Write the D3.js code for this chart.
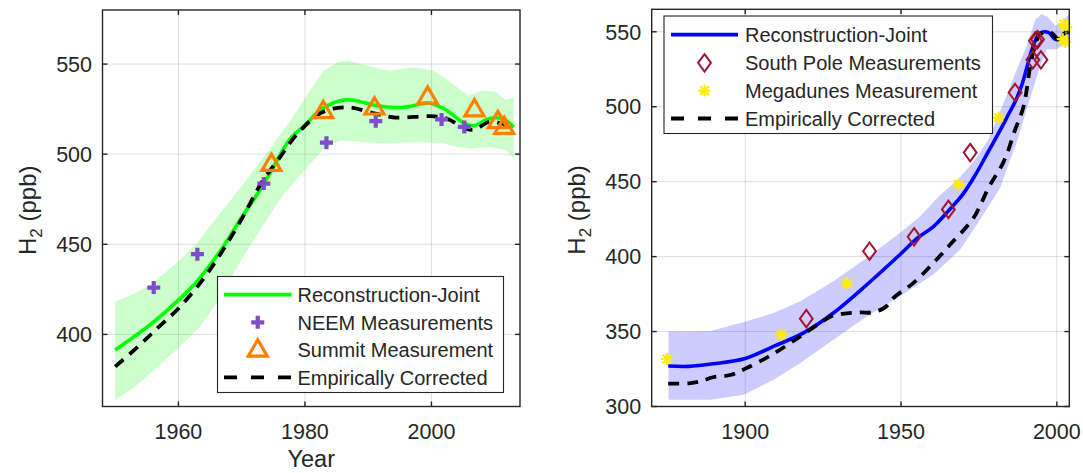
<!DOCTYPE html>
<html><head><meta charset="utf-8">
<script src="https://cdn.jsdelivr.net/npm/d3@7"></script>
<style>
body{margin:0;background:#fff}
svg{display:block}
text{font-family:"Liberation Sans",Arial,Helvetica,sans-serif;fill:#262626}
</style>
</head><body>
<svg id="chart" width="1083" height="473"></svg>
<script>
// ---------- LEFT PANEL DATA ----------
const leftXTicks = [1960, 1980, 2000];
const leftYTicks = [400, 450, 500, 550];
const leftReconYears = [1950,1955.8,1960,1962.9,1966.7,1969.9,1973.2,1977.8,1980,1982.7,1986.5,1991.1,1993.4,1996,1999.6,2002,2005.3,2006.7,2009.1,2011.2,2013];
const leftRecon      = [391.3,406.1,419,429.2,446.7,464.3,481.8,509,516,525.2,530.2,527.1,526,526.2,528.3,525.2,517,515.8,519.7,519.7,515];
const leftCorrYears  = [1950,1953.6,1956.9,1960,1963.4,1966.7,1969.9,1973.2,1975.9,1978.6,1982.7,1986.8,1991.1,1994.4,1999.8,2002.5,2005.3,2006.9,2009.1,2011.2,2013];
const leftCorr       = [382.1,393.2,404.2,414.4,428.3,444.9,463.4,484.5,497.5,510.5,523.2,526,522.5,520.3,521.1,519.7,514.3,513.6,518,517,515.3];
const leftUpperYears = [1950,1953.1,1955.8,1959.6,1962.9,1966.1,1969.9,1974.3,1978.1,1980.8,1983,1985.2,1986.8,1989.5,1993.3,1997.1,2000.4,2002.6,2005.8,2008,2010.2,2011.8,2013];
const leftUpper      = [418.1,422.7,428.3,439.3,450.4,465.2,481.8,502.2,520.6,535.4,546.5,551.1,552,549.3,546.5,548.3,546.1,541,532.6,535.4,534.5,529.9,531.7];
const leftLowerYears = [1950,1953.1,1956.4,1960.2,1963.4,1966.7,1969.9,1973.2,1976.5,1979.7,1983,1985.7,1989,1992.8,1997.1,2001.5,2004.2,2006.4,2009.1,2011.8,2013];
const leftLower      = [363.6,371,381.1,393.2,404.2,420.9,441.2,459.7,477.2,490.1,503.1,507.7,506.8,505.8,506.8,506.2,504,503.1,504,502.2,497.5];
const neemYears   = [1956.1,1963,1973.5,1983.4,1991.2,2001.6,2005.2];
const neemValues  = [426,444.5,483.7,506.4,518.3,519.3,515.1];
const summitYears = [1974.7,1982.9,1991,1999.4,2006.8,2010.5,2011.5];
const summitValues= [494.5,523.8,525.8,531.8,524.8,518.2,515];
const leftLegend = ["Reconstruction-Joint","NEEM Measurements","Summit Measurement","Empirically Corrected"];

// ---------- RIGHT PANEL DATA ----------
const rightXTicks = [1900, 1950, 2000];
const rightYTicks = [300, 350, 400, 450, 500, 550];
const rightReconYears = [1875.3,1881.9,1889.7,1900,1909.1,1918.7,1928.3,1939.1,1949.7,1955.3,1960.4,1965,1970,1974,1978,1982,1984.5,1987,1989,1990.5,1992.5,1994.5,1997.3,1999.5,2001.5,2003.8];
const rightRecon      = [327,326.8,328.5,332,340.1,349.1,362.4,381.4,401.4,412.5,420,430,442,455,470,485,495,505,516,527,541,549,549.6,545,546,551.8];
const rightCorrYears  = [1875.3,1881.9,1885.6,1889.7,1895.2,1900.4,1909.1,1917.7,1924.1,1928,1932.6,1937,1941.2,1945.3,1947.6,1954,1960.4,1965.8,1973.3,1978.1,1983.1,1986.5,1989.3,1991.5,1993,1994.7,1997.9,2001.1,2002.8,2004];
const rightCorr       = [315.2,315.5,316.7,319.5,321,325.6,335.2,346.8,355.8,360.5,362.2,362.8,362.8,366.8,372.5,382.5,395.8,408.1,425.9,446,464,484,500,527.3,540.6,548.4,549.6,544,550.5,549];
const rightUpperYears = [1875.4,1888.8,1900.5,1909.1,1917.7,1928.3,1939.1,1949.7,1956.2,1962,1968.5,1973.5,1978,1983.4,1987,1989.9,1993.1,1995,1997,1999.5,2001.5,2004];
const rightUpper      = [350.1,350.3,356.8,362.4,370.2,383.6,399.2,415.9,427,440,452,464,478,505,524,538.4,558,561.8,560,554,556,562];
const rightLowerYears = [1875.4,1888.8,1899.5,1909.1,1917.7,1928.3,1939.1,1949.7,1960.4,1969,1975.4,1981.8,1987.4,1991,1994.7,1996.8,2000,2004];
const rightLower      = [304.5,304.5,307.8,317.8,329,344.6,360.2,373.5,388,404.7,424.8,446,478,503,527.3,538.4,538.4,545];
const southPoleYears  = [1919.6,1939.9,1954.2,1965.2,1972.2,1986.6,1992.3,1993.1,1993.8,1994.9];
const southPoleValues = [358.6,403.6,413.2,431.5,469.4,509.5,531.3,544,544.8,531.3];
const megadunesYears  = [1874.9,1911.6,1932.6,1968.5,1981.3,2002.2,2003,2001.9,2002.7];
const megadunesValues = [331.7,347.9,382,448.2,492.8,555.1,552.9,545.1,543.3];
const rightLegend = ["Reconstruction-Joint","South Pole Measurements","Megadunes Measurement","Empirically Corrected"];

// ---------- DRAWING ----------
const svg = d3.select("#chart");
const AX = "#262626";

const markers = {
  plus: (g, c) => g.append("path").attr("d","M-6.5,0H6.5M0,-6.5V6.5").attr("stroke",c).attr("stroke-width",4.2).attr("fill","none"),
  tri:  (g, c) => g.append("path").attr("d","M0,-10L9.5,6.3L-9.5,6.3Z").attr("stroke",c).attr("stroke-width",3.2).attr("fill","none").attr("stroke-linejoin","miter"),
  diamond: (g, c) => g.append("path").attr("d","M0,-8.7L6.4,0L0,8.7L-6.4,0Z").attr("stroke",c).attr("stroke-width",2).attr("fill","none"),
  star: (g, c) => g.append("path").attr("d","M-6,0H6M0,-6V6M-4.3,-4.3L4.3,4.3M-4.3,4.3L4.3,-4.3").attr("stroke",c).attr("stroke-width",2.2).attr("fill","none")
};

function zip(xs, ys){ return xs.map((x,i)=>[x, ys[i]]); }

function panel(cfg, idx){
  const x = d3.scaleLinear().domain(cfg.xDomain).range([cfg.left, cfg.right]);
  const y = d3.scaleLinear().domain(cfg.yDomain).range([cfg.bottom, cfg.top]);
  const g = svg.append("g");
  const clipId = "clip"+idx;
  svg.append("defs").append("clipPath").attr("id",clipId)
    .append("rect").attr("x",cfg.left).attr("y",cfg.top)
    .attr("width",cfg.right-cfg.left).attr("height",cfg.bottom-cfg.top);

  // grid
  const grid = g.append("g").attr("stroke",AX).attr("stroke-opacity",0.15).attr("stroke-width",1);
  cfg.xTicks.forEach(t=>grid.append("line").attr("x1",x(t)).attr("x2",x(t)).attr("y1",cfg.top).attr("y2",cfg.bottom));
  cfg.yTicks.forEach(t=>grid.append("line").attr("y1",y(t)).attr("y2",y(t)).attr("x1",cfg.left).attr("x2",cfg.right));

  const data = g.append("g").attr("clip-path",`url(#${clipId})`);
  // band
  const lin = d3.line().x(d=>x(d[0])).y(d=>y(d[1]));
  const up = zip(cfg.upperYears, cfg.upper);
  const lo = zip(cfg.lowerYears, cfg.lower).reverse();
  data.append("path").attr("d", lin(up.concat(lo)) + "Z")
    .attr("fill", cfg.bandColor).attr("fill-opacity",0.2).attr("stroke","none");

  const smooth = d3.line().x(d=>x(d[0])).y(d=>y(d[1])).curve(d3.curveCatmullRom.alpha(0.5));
  data.append("path").attr("d", smooth(zip(cfg.reconYears, cfg.recon)))
    .attr("fill","none").attr("stroke",cfg.lineColor).attr("stroke-width",3.6);

  cfg.markerSets.forEach(ms=>{
    ms.years.forEach((yr,i)=>{
      const mg = g.append("g").attr("transform",`translate(${x(yr)},${y(ms.values[i])})`);
      markers[ms.type](mg, ms.color);
    });
  });

  data.append("path").attr("d", smooth(zip(cfg.corrYears, cfg.corr)))
    .attr("fill","none").attr("stroke","#000").attr("stroke-width",3.8)
    .attr("stroke-dasharray","11,8");

  // axes box + ticks
  const ax = g.append("g").attr("stroke",AX).attr("stroke-width",1.4).attr("fill","none");
  ax.append("rect").attr("x",cfg.left).attr("y",cfg.top).attr("width",cfg.right-cfg.left).attr("height",cfg.bottom-cfg.top);
  const tl = 5;
  cfg.xTicks.forEach(t=>{
    ax.append("line").attr("x1",x(t)).attr("x2",x(t)).attr("y1",cfg.bottom).attr("y2",cfg.bottom-tl);
    ax.append("line").attr("x1",x(t)).attr("x2",x(t)).attr("y1",cfg.top).attr("y2",cfg.top+tl);
  });
  cfg.yTicks.forEach(t=>{
    ax.append("line").attr("y1",y(t)).attr("y2",y(t)).attr("x1",cfg.left).attr("x2",cfg.left+tl);
    ax.append("line").attr("y1",y(t)).attr("y2",y(t)).attr("x1",cfg.right).attr("x2",cfg.right-tl);
  });
  // tick labels
  const tg = g.append("g").attr("font-size",21.5);
  cfg.xTicks.forEach(t=>tg.append("text").attr("x",x(t)).attr("y",cfg.bottom+32.5).attr("text-anchor","middle").text(t));
  cfg.yTicks.forEach(t=>tg.append("text").attr("x",cfg.left-10.5).attr("y",y(t)).attr("dy","0.36em").attr("text-anchor","end").text(t));

  // y label
  const yl = g.append("text").attr("font-size",24).attr("text-anchor","middle")
    .attr("transform",`translate(${cfg.left-67},${(cfg.top+cfg.bottom)/2+2}) rotate(-90)`);
  yl.append("tspan").text("H");
  yl.append("tspan").attr("font-size",17).attr("dy",6).text("2");
  yl.append("tspan").attr("dy",-6).text(" (ppb)");

  if (cfg.xLabel){
    g.append("text").attr("x",(cfg.left+cfg.right)/2).attr("y",cfg.bottom+60).attr("text-anchor","middle").attr("font-size",23.5).text(cfg.xLabel);
  }

  // legend
  const L = cfg.legend;
  const lg = g.append("g");
  lg.append("rect").attr("x",L.x0).attr("y",L.y0).attr("width",L.x1-L.x0).attr("height",L.y1-L.y0)
    .attr("fill","#fff").attr("stroke",AX).attr("stroke-width",1.1);
  const rows = L.rows;
  lg.append("line").attr("x1",L.lx0).attr("x2",L.lx1).attr("y1",rows[0]).attr("y2",rows[0]).attr("stroke",cfg.lineColor).attr("stroke-width",3.8);
  cfg.markerSets.forEach((ms,i)=>{
    const mg = lg.append("g").attr("transform",`translate(${(L.lx0+L.lx1)/2},${rows[i+1]})`);
    markers[ms.type](mg, ms.color);
  });
  lg.append("line").attr("x1",L.lx0).attr("x2",L.lx1).attr("y1",rows[3]).attr("y2",rows[3]).attr("stroke","#000").attr("stroke-width",3.8).attr("stroke-dasharray","13,14");
  cfg.legendLabels.forEach((s,i)=>lg.append("text").attr("x",L.tx).attr("y",rows[i]).attr("dy","0.36em").attr("font-size",20).text(s));
}

panel({
  left:102.5, right:520, top:10, bottom:406.5,
  xDomain:[1948,2014], yDomain:[360,580],
  xTicks:leftXTicks, yTicks:leftYTicks,
  reconYears:leftReconYears, recon:leftRecon,
  corrYears:leftCorrYears, corr:leftCorr,
  upperYears:leftUpperYears, upper:leftUpper,
  lowerYears:leftLowerYears, lower:leftLower,
  bandColor:"#00ff00", lineColor:"#00ff00",
  markerSets:[
    {type:"plus", color:"#7e4ec8", years:neemYears, values:neemValues},
    {type:"tri", color:"#ff7f00", years:summitYears, values:summitValues}
  ],
  xLabel:"Year",
  legendLabels:leftLegend,
  legend:{x0:217.5,x1:503.5,y0:276.5,y1:392.5,rows:[294.7,322.3,349.8,377.3],lx0:224,lx1:291.5,tx:297.5}
},0);

panel({
  left:651.7, right:1069.3, top:9.3, bottom:406.5,
  xDomain:[1870,2004], yDomain:[300,565],
  xTicks:rightXTicks, yTicks:rightYTicks,
  reconYears:rightReconYears, recon:rightRecon,
  corrYears:rightCorrYears, corr:rightCorr,
  upperYears:rightUpperYears, upper:rightUpper,
  lowerYears:rightLowerYears, lower:rightLower,
  bandColor:"#0000ff", lineColor:"#0000ff",
  markerSets:[
    {type:"diamond", color:"#a2142f", years:southPoleYears, values:southPoleValues},
    {type:"star", color:"#ffee00", years:megadunesYears, values:megadunesValues}
  ],
  xLabel:null,
  legendLabels:rightLegend,
  legend:{x0:664,x1:992.5,y0:16,y1:133.5,rows:[34.6,62.8,90.6,118.5],lx0:671,lx1:738,tx:745}
},1);
</script>
</body></html>
